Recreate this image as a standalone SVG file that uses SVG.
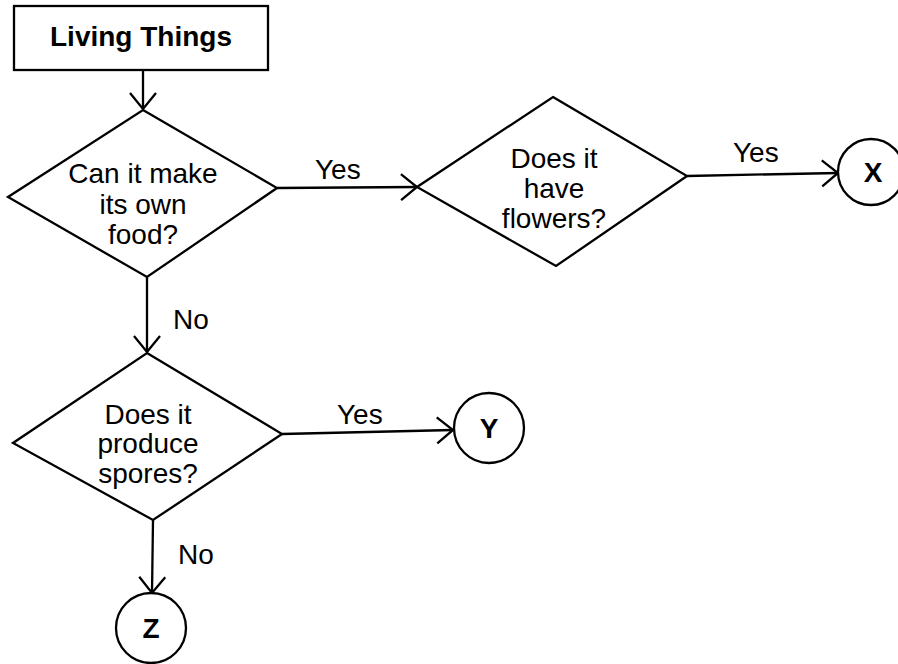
<svg xmlns="http://www.w3.org/2000/svg" width="898" height="664" viewBox="0 0 898 664">
<style>
.shape{fill:#fff;stroke:#000;stroke-width:2.3}
.edge{fill:none;stroke:#000;stroke-width:2.3}
.t{font-family:"Liberation Sans",Arial,sans-serif;font-size:28px;fill:#000;text-anchor:middle}
.b{font-weight:bold}
.lbl{font-family:"Liberation Sans",Arial,sans-serif;font-size:28px;fill:#000}
</style>
<defs>
<marker id="arr" markerUnits="userSpaceOnUse" markerWidth="24" markerHeight="30" refX="18" refY="15" orient="auto">
<path d="M2,2 L18,15 L2,28" fill="none" stroke="#000" stroke-width="2.3"/>
</marker>
</defs>
<rect width="898" height="664" fill="#fff"/>
<g id="connectors">
<path class="edge" d="M143,70 L143,109" marker-end="url(#arr)"/>
<path class="edge" d="M277,188 L417,187" marker-end="url(#arr)"/>
<path class="edge" d="M687,176 L838,173" marker-end="url(#arr)"/>
<path class="edge" d="M147,277 L147,352" marker-end="url(#arr)"/>
<path class="edge" d="M282,434 L453,430" marker-end="url(#arr)"/>
<path class="edge" d="M153,520 L152,593" marker-end="url(#arr)"/>
<text class="lbl" x="315" y="179">Yes</text>
<text class="lbl" x="733" y="162">Yes</text>
<text class="lbl" x="173" y="329">No</text>
<text class="lbl" x="337" y="424">Yes</text>
<text class="lbl" x="178" y="564">No</text>
</g>
<g id="living-things">
<rect class="shape" x="14" y="6" width="254" height="64"/>
<text class="t b" x="141" y="46" font-size="26">Living Things</text>
</g>
<g id="make-food">
<polygon class="shape" points="143,110 277,188 147,277 8,197"/>
<text class="t" x="143" y="183">Can it make</text>
<text class="t" x="143" y="214">its own</text>
<text class="t" x="143" y="244">food?</text>
</g>
<g id="flowers">
<polygon class="shape" points="553,97 687,176 556,266 417,187"/>
<text class="t" x="554" y="168">Does it</text>
<text class="t" x="554" y="198">have</text>
<text class="t" x="554" y="228">flowers?</text>
</g>
<g id="spores">
<polygon class="shape" points="147,353 282,434 153,520 13,443"/>
<text class="t" x="148" y="424">Does it</text>
<text class="t" x="148" y="453">produce</text>
<text class="t" x="148" y="483">spores?</text>
</g>
<g id="x">
<circle class="shape" cx="871" cy="172" r="33"/>
<text class="t b" x="873" y="182">X</text>
</g>
<g id="y">
<circle class="shape" cx="489" cy="428" r="35"/>
<text class="t b" x="489" y="438">Y</text>
</g>
<g id="z">
<circle class="shape" cx="151" cy="628" r="35"/>
<text class="t b" x="151" y="638">Z</text>
</g>
</svg>
